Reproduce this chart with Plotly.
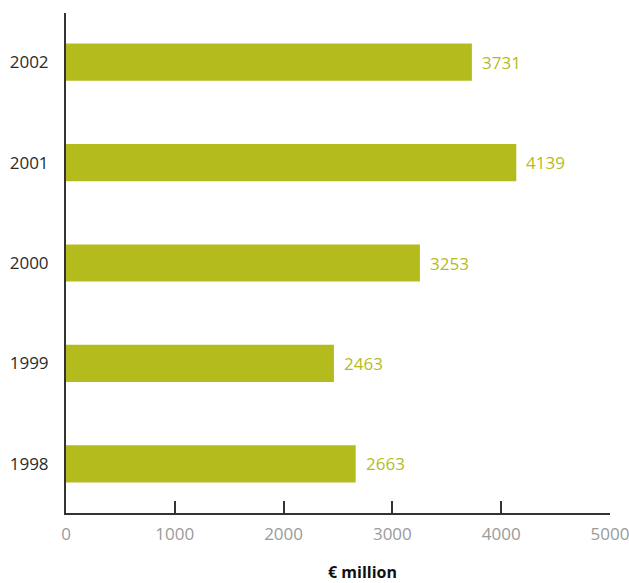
import plotly.graph_objects as go

# Annual amounts, € million
years = ["1998", "1999", "2000", "2001", "2002"]
values = [2663, 2463, 3253, 4139, 3731]
x_ticks = [0, 1000, 2000, 3000, 4000, 5000]

bar_color = "#b4bc1d"
font_family = "Open Sans, Noto Sans, sans-serif"

fig = go.Figure()
fig.add_trace(go.Bar(
    x=values,
    y=years,
    orientation="h",
    marker=dict(color=bar_color, line=dict(width=0)),
    width=0.37,
    hoverinfo="skip",
))

# Value labels just past the end of each bar (category index on y)
for i, v in enumerate(values):
    fig.add_annotation(
        x=v, y=i, text=str(v), showarrow=False,
        xanchor="left", yanchor="middle", xshift=8,
        font=dict(family=font_family, size=17, color=bar_color),
    )

# Unit label under the x axis
fig.add_annotation(
    xref="paper", yref="paper",
    x=(362 - 65.5) / (610 - 65.5),
    y=-(572 - 513) / (513 - 13),
    text="<b>€ million</b>", showarrow=False,
    xanchor="center", yanchor="middle",
    font=dict(family=font_family, size=16, color="#111111"),
)

fig.update_layout(
    width=629, height=583,
    margin=dict(l=65.5, r=19, t=13, b=70, autoexpand=False),
    paper_bgcolor="white", plot_bgcolor="white",
    showlegend=False,
    font=dict(family=font_family),
    xaxis=dict(
        range=[0, 5000.5],
        tickvals=x_ticks,
        ticktext=[str(t) for t in x_ticks],
        showgrid=False, zeroline=False, automargin=False,
        showline=True, linecolor="#333333", linewidth=2,
        ticks="inside", ticklen=12, tickwidth=2, tickcolor="#333333",
        tickfont=dict(family=font_family, size=17, color="#9a9a9a"),
        ticklabelstandoff=5, ticklabeloverflow="allow",
    ),
    yaxis=dict(
        type="category",
        categoryorder="array", categoryarray=years,
        range=[-0.49, 4.49],
        showgrid=False, zeroline=False, automargin=False,
        showline=True, linecolor="#333333", linewidth=2,
        ticks="", ticklabelstandoff=12,
        tickfont=dict(family=font_family, size=17, color="#2b2b2b"),
    ),
)

fig.write_html("out.html")
